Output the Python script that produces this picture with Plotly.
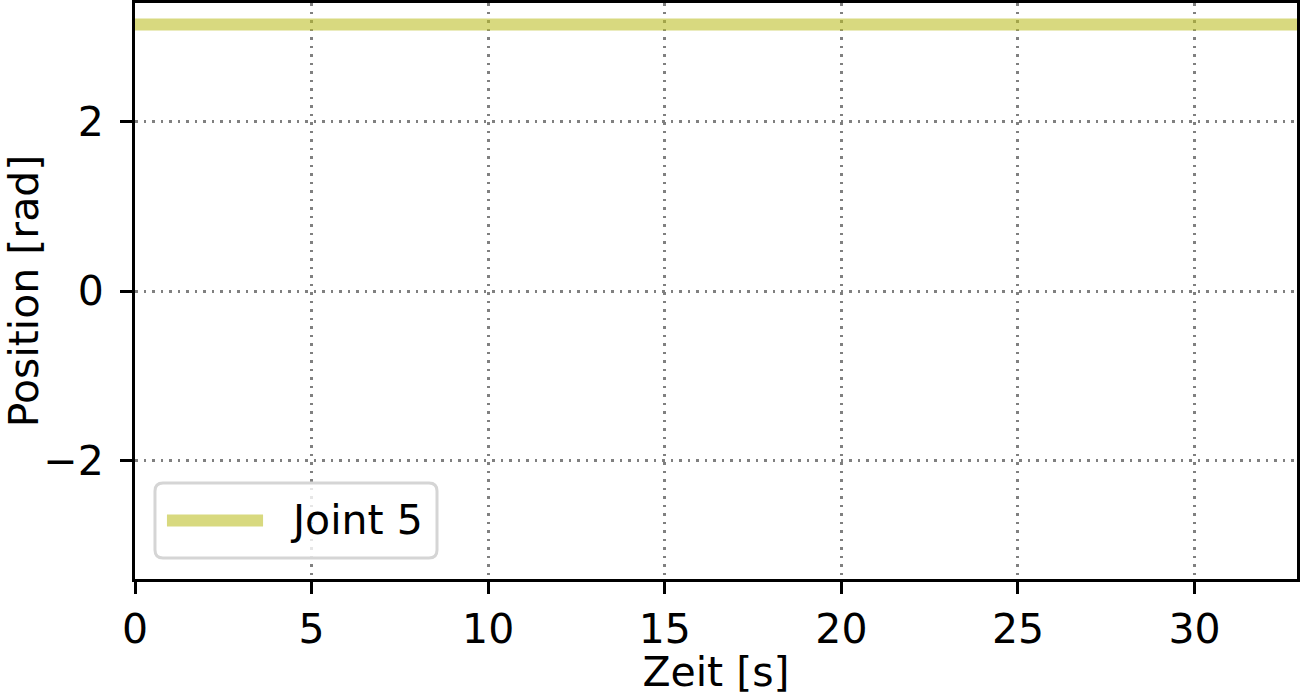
import plotly.graph_objects as go

# Data
zeit = [0.0, 32.9]
position_joint5 = [3.14, 3.14]
x_ticks = [0, 5, 10, 15, 20, 25, 30]
y_ticks = [-2, 0, 2]
series_name = "Joint 5"

FONT = "DejaVu Sans"
FS = 41
LINE_COLOR = "rgba(188,189,34,0.58)"

fig = go.Figure()
fig.add_trace(go.Scatter(
    x=zeit, y=position_joint5, mode="lines", name=series_name,
    line=dict(color=LINE_COLOR, width=12), showlegend=False,
))

axis_common = dict(
    showline=True, linecolor="black", linewidth=3, mirror=True,
    ticks="outside", ticklen=12, tickwidth=3, tickcolor="black",
    showgrid=True, gridcolor="#808080", gridwidth=2.5, griddash="2.5px,6px",
    zeroline=False, automargin=False,
    tickfont=dict(family=FONT, size=FS, color="black"),
)

# Legend drawn matplotlib-style (paper coordinates of the plot area)
x0, x1, y0, y1 = 0.0172, 0.2599, 0.0365, 0.1667
rx, ry = 0.0069, 0.0139
legend_path = (
    f"M {x0+rx},{y1} L {x1-rx},{y1} Q {x1},{y1} {x1},{y1-ry} "
    f"L {x1},{y0+ry} Q {x1},{y0} {x1-rx},{y0} "
    f"L {x0+rx},{y0} Q {x0},{y0} {x0},{y0+ry} "
    f"L {x0},{y1-ry} Q {x0},{y1} {x0+rx},{y1} Z"
)
ymid = (y0 + y1) / 2

fig.update_layout(
    width=1300, height=696,
    margin=dict(l=135, r=3, t=3, b=117, autoexpand=False),
    paper_bgcolor="white", plot_bgcolor="white",
    font=dict(family=FONT, size=FS, color="black"),
    showlegend=False,
    shapes=[
        dict(type="path", xref="paper", yref="paper", path=legend_path,
             fillcolor="rgba(255,255,255,0.8)", line=dict(color="#d5d5d5", width=3)),
        dict(type="line", xref="paper", yref="paper", x0=0.0275, x1=0.1102,
             y0=ymid, y1=ymid, line=dict(color=LINE_COLOR, width=12)),
    ],
    annotations=[
        dict(text=series_name, xref="paper", yref="paper", x=0.1317, y=ymid,
             xanchor="left", yanchor="middle", showarrow=False,
             font=dict(family=FONT, size=FS, color="black")),
    ],
    xaxis=dict(
        range=[0, 32.9], tickvals=x_ticks, ticktext=[str(v) for v in x_ticks],
        title=dict(text="Zeit [s]", font=dict(family=FONT, size=FS), standoff=2),
        **axis_common,
    ),
    yaxis=dict(
        range=[-3.393, 3.393], tickvals=y_ticks,
        ticktext=["\u22122", "0", "2"],
        title=dict(text="Position [rad]", font=dict(family=FONT, size=FS), standoff=17),
        ticklabelstandoff=8,
        **axis_common,
    ),
)

fig.write_html("out.html")
